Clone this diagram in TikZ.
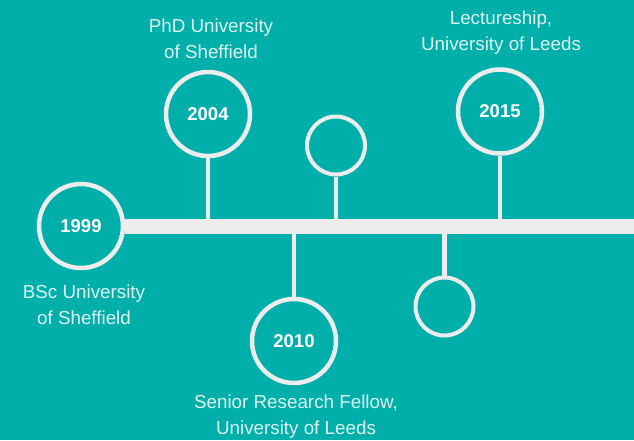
\documentclass[tikz,border=0pt]{standalone}
\usepackage{fontspec}
\setmainfont{Liberation Sans}
\definecolor{teal}{RGB}{0,175,170}
\definecolor{lite}{RGB}{236,236,236}
\definecolor{txt}{RGB}{222,242,240}
\begin{document}
\begin{tikzpicture}[x=1pt,y=-1pt,
  yearc/.style={circle,draw=lite,line width=4.5pt,minimum size=84pt,inner sep=0pt,text=white,font=\fontsize{18.5}{18.5}\selectfont\bfseries},
  smallc/.style={circle,draw=lite,line width=4pt,minimum size=58pt,inner sep=0pt},
  stem/.style={draw=lite,line width=4.5pt},
  lbl/.style={align=center,text=txt,font=\fontsize{18.8}{26}\selectfont,inner sep=0pt}]
\fill[teal] (0,0) rectangle (634,440);
\useasboundingbox (0,0) rectangle (634,440);
\node[yearc] (y1999) at (81,226) {1999};
\coordinate (barend) at (634,226);
\draw[draw=lite,line width=15pt] (y1999.east) -- (barend);
\node[yearc] (y2004) at (208,114) {2004};
\node[yearc] (y2010) at (294,341) {2010};
\node[yearc] (y2015) at (500,111.5) {2015};
\node[smallc] (s1) at (336,145.5) {};
\node[smallc] (s2) at (444.5,306.5) {};
\coordinate (b2004) at (208,226);
\coordinate (b2010) at (294,226);
\coordinate (b2015) at (500,226);
\coordinate (bs1) at (336,226);
\coordinate (bs2) at (444.5,226);
\draw[stem] (y2004.south) -- (b2004);
\draw[stem] (y2010.north) -- (b2010);
\draw[stem] (y2015.south) -- (b2015);
\draw[stem] (s1.south) -- (bs1);
\draw[stem] (s2.north) -- (bs2);
\node[lbl] (l1999) at (84,305) {BSc University\\of Sheffield};
\node[lbl] (l2004) at (211,38.5) {PhD University\\of Sheffield};
\node[lbl] (l2015) at (501,32.5) {Lectureship,\\University of Leeds};
\node[lbl] (l2010) at (296,416.5) {Senior Research Fellow,\\University of Leeds};
\end{tikzpicture}
\end{document}
